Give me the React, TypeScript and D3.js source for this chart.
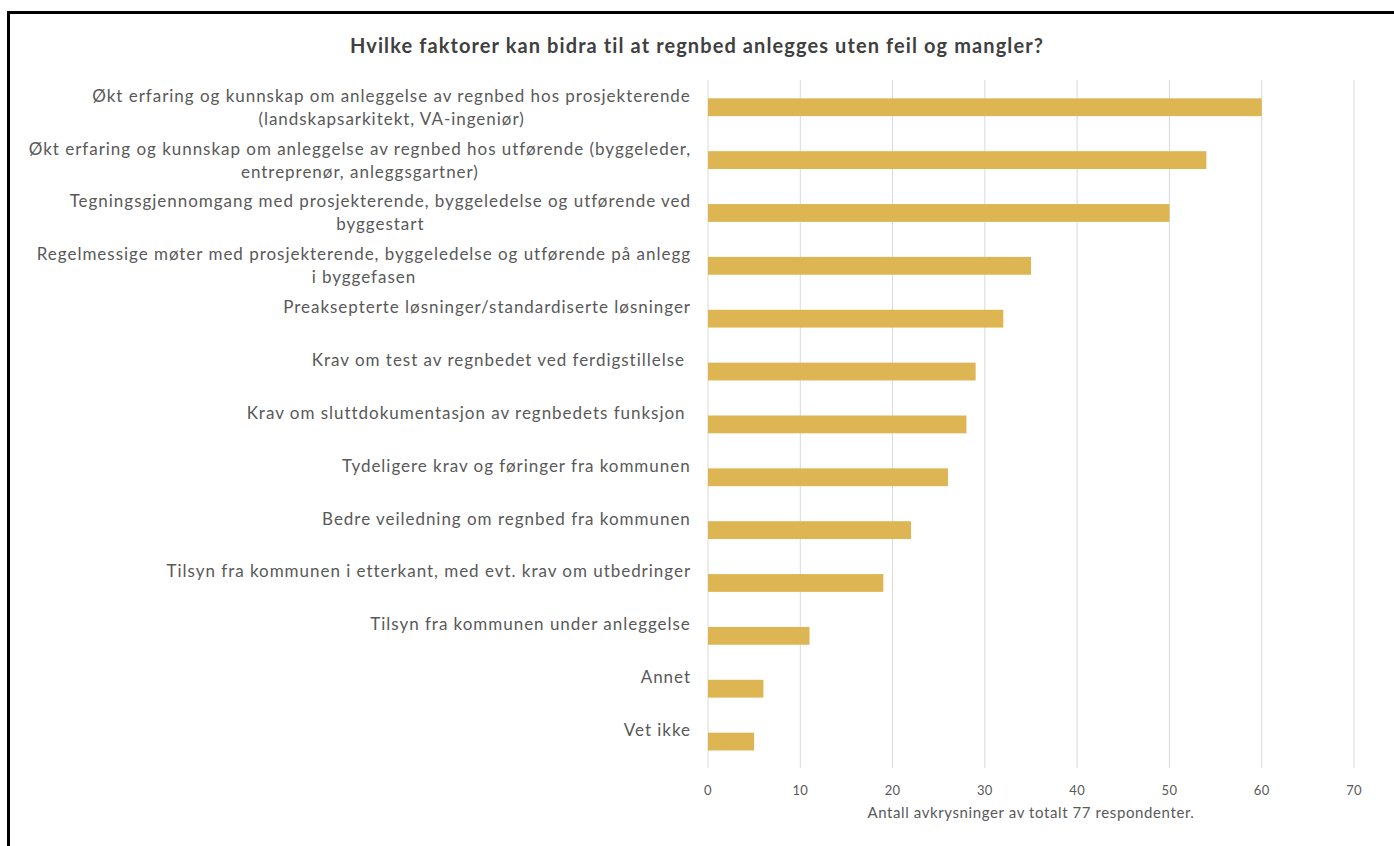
import React from "react";
import * as d3 from "d3";

const title = "Hvilke faktorer kan bidra til at regnbed anlegges uten feil og mangler?";
const axisTitle = "Antall avkrysninger av totalt 77 respondenter.";

const categories: string[][] = [
  ["Økt erfaring og kunnskap om anleggelse av regnbed hos prosjekterende", "(landskapsarkitekt, VA-ingeniør)"],
  ["Økt erfaring og kunnskap om anleggelse av regnbed hos utførende (byggeleder,", "entreprenør, anleggsgartner)"],
  ["Tegningsgjennomgang med prosjekterende, byggeledelse og utførende ved", "byggestart"],
  ["Regelmessige møter med prosjekterende, byggeledelse og utførende på anlegg", "i byggefasen"],
  ["Preaksepterte løsninger/standardiserte løsninger"],
  ["Krav om test av regnbedet ved ferdigstillelse "],
  ["Krav om sluttdokumentasjon av regnbedets funksjon "],
  ["Tydeligere krav og føringer fra kommunen"],
  ["Bedre veiledning om regnbed fra kommunen"],
  ["Tilsyn fra kommunen i etterkant, med evt. krav om utbedringer"],
  ["Tilsyn fra kommunen under anleggelse"],
  ["Annet"],
  ["Vet ikke"],
];

const values: number[] = [60, 54, 50, 35, 32, 29, 28, 26, 22, 19, 11, 6, 5];

const xTicks: number[] = [0, 10, 20, 30, 40, 50, 60, 70];

const FONT = "Lato, 'Open Sans', sans-serif";
const LABEL_SIZE = 17;
const LABEL_LS = 0.97;

let ctx: CanvasRenderingContext2D | null = null;
function measure(text: string, size: number, ls: number): number {
  if (!ctx) {
    const c = document.createElement("canvas");
    ctx = c.getContext("2d");
  }
  if (!ctx) return text.length * size * 0.5;
  ctx.font = `${size}px Lato`;
  return ctx.measureText(text).width + ls * text.length;
}

export default function App() {
  const W = 1394;
  const H = 846;
  const x = d3.scaleLinear().domain([0, 70]).range([708, 1354]);
  const ids = categories.map((_, i) => String(i));
  const y = d3.scaleBand<string>().domain(ids).range([80.8, 768]).paddingInner(0.663).paddingOuter(0.3315);
  const labelRight = 691;

  return (
    <svg width={W} height={H} style={{ position: "absolute", left: 0, top: 0, background: "#fff" }} fontFamily={FONT}>
      <rect x={0} y={0} width={W} height={H} fill="#fff" />
      <rect x={8.5} y={12.5} width={W + 20} height={H + 20} fill="none" stroke="#000" strokeWidth={3} />
      <text x={697} y={45} textAnchor="middle" dominantBaseline="central" fontSize={20} fontWeight="bold" fill="#404040" letterSpacing={1.1}>
        {title}
      </text>
      {xTicks.map((t) => (
        <line key={"g" + t} x1={x(t)} x2={x(t)} y1={80} y2={768} stroke="#d9d9d9" strokeWidth={1} />
      ))}
      {values.map((v, i) => (
        <rect key={"b" + i} x={x(0)} y={y(ids[i])} width={x(v) - x(0)} height={y.bandwidth()} fill="#DDB553" />
      ))}
      {xTicks.map((t) => (
        <text key={"t" + t} x={x(t)} y={790} textAnchor="middle" dominantBaseline="central" fontSize={13} fill="#595959" letterSpacing={0.3}>
          {t}
        </text>
      ))}
      <text x={(x(0) + x(70)) / 2} y={812} textAnchor="middle" dominantBaseline="central" fontSize={15} fill="#595959" letterSpacing={0.6}>
        {axisTitle}
      </text>
      {categories.map((lines, i) => {
        const cy = (y(ids[i]) as number) + y.bandwidth() / 2;
        const maxW = Math.max(...lines.map((l) => measure(l, LABEL_SIZE, LABEL_LS)));
        const cx = labelRight - maxW / 2;
        return (
          <g key={"l" + i}>
            {lines.map((l, j) => (
              <text key={j} x={cx} y={cy - 12 + j * 23} textAnchor="middle" dominantBaseline="central" fontSize={LABEL_SIZE} fill="#595959" letterSpacing={LABEL_LS} style={{ whiteSpace: "pre" }}>
                {l}
              </text>
            ))}
          </g>
        );
      })}
    </svg>
  );
}
